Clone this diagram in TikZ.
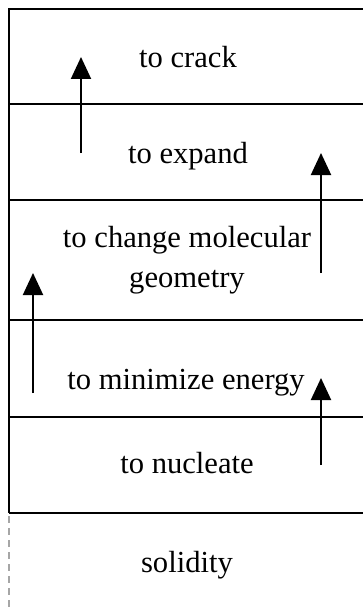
\documentclass[tikz,border=0pt]{standalone}
\usepackage{fontspec}
\setmainfont{Liberation Serif}
\usetikzlibrary{arrows.meta,positioning}

\begin{document}
\begin{tikzpicture}[x=1pt, y=-1pt,
  lbl/.style={anchor=base, inner sep=0pt, align=center,
    font=\fontsize{30.6}{40}\selectfont},
  rule/.style={line width=2pt},
  arr/.style={-{Triangle[length=22pt, width=20pt]}, line width=2pt}
]
\useasboundingbox (0,0) rectangle (363,607);
% frame and rows
\draw[rule] (363,9) -- (9,9) -- (9,513);
\foreach \y in {104,200,320,417,513}
  \draw[rule] (9,\y) -- (363,\y);
\draw[gray!70, line width=1.5pt, dash pattern=on 7pt off 5pt] (9,516) -- (9,607);
% labels
\node[lbl] (crack) at (188,68) {to crack};
\node[lbl] (expand) at (188,163) {to expand};
\node[lbl] (geom) at (187,287) {to change molecular\\geometry};
\node[lbl] (minim) at (186,389) {to minimize energy};
\node[lbl] (nucl) at (187,473) {to nucleate};
\node[lbl] (solid) at (187,572) {solidity};
% arrows
\coordinate (a1s) at (81,153);  \coordinate (a1e) at (81,57);
\coordinate (a2s) at (321,273); \coordinate (a2e) at (321,153);
\coordinate (a3s) at (33,393);  \coordinate (a3e) at (33,273);
\coordinate (a4s) at (321,465); \coordinate (a4e) at (321,378);
\draw[arr] (a1s) -- (a1e);
\draw[arr] (a2s) -- (a2e);
\draw[arr] (a3s) -- (a3e);
\draw[arr] (a4s) -- (a4e);
\end{tikzpicture}
\end{document}
